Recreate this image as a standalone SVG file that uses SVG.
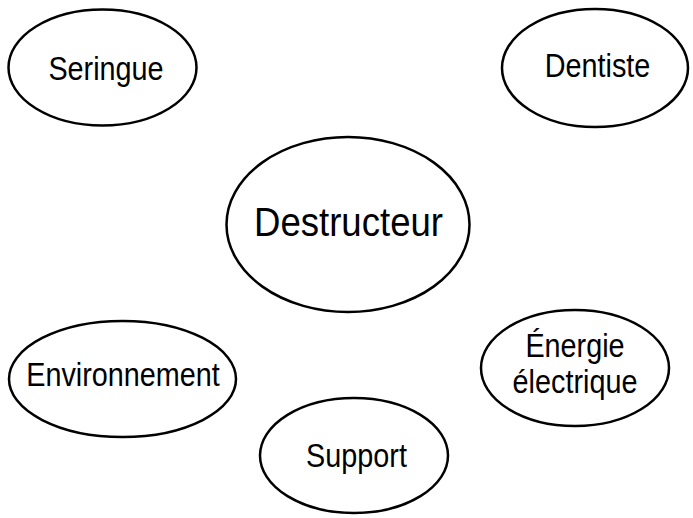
<svg xmlns="http://www.w3.org/2000/svg" width="693" height="518" viewBox="0 0 693 518">
<style>
.n ellipse{fill:#fff;stroke:#000;stroke-width:2.5}
.n text{font-family:"Liberation Sans",Arial,sans-serif;font-size:28.8px;fill:#000;text-anchor:middle}
#destructeur text{font-size:36.6px}
</style>
<rect width="693" height="518" fill="#fff"/>
<g id="connectors"/>
<g id="seringue" class="n">
<ellipse cx="102.5" cy="67.5" rx="94" ry="58"/>
<text transform="translate(106,80) scale(1,1.16)">Seringue</text>
</g>
<g id="dentiste" class="n">
<ellipse cx="595" cy="68" rx="93" ry="59"/>
<text transform="translate(597.5,77) scale(1,1.16)">Dentiste</text>
</g>
<g id="destructeur" class="n">
<ellipse cx="348" cy="224.5" rx="121.5" ry="87.5"/>
<text transform="translate(348.5,236) scale(1,1.12)">Destructeur</text>
</g>
<g id="environnement" class="n">
<ellipse cx="122.5" cy="379" rx="113.5" ry="58"/>
<text transform="translate(123,386) scale(1,1.16)">Environnement</text>
</g>
<g id="energie" class="n">
<ellipse cx="575" cy="368" rx="94" ry="58"/>
<text transform="translate(575,357) scale(1,1.16)">Énergie</text>
<text transform="translate(575,393) scale(1,1.16)">électrique</text>
</g>
<g id="support" class="n">
<ellipse cx="354" cy="455.5" rx="94" ry="57.5"/>
<text transform="translate(356.5,467) scale(1,1.16)">Support</text>
</g>
</svg>
